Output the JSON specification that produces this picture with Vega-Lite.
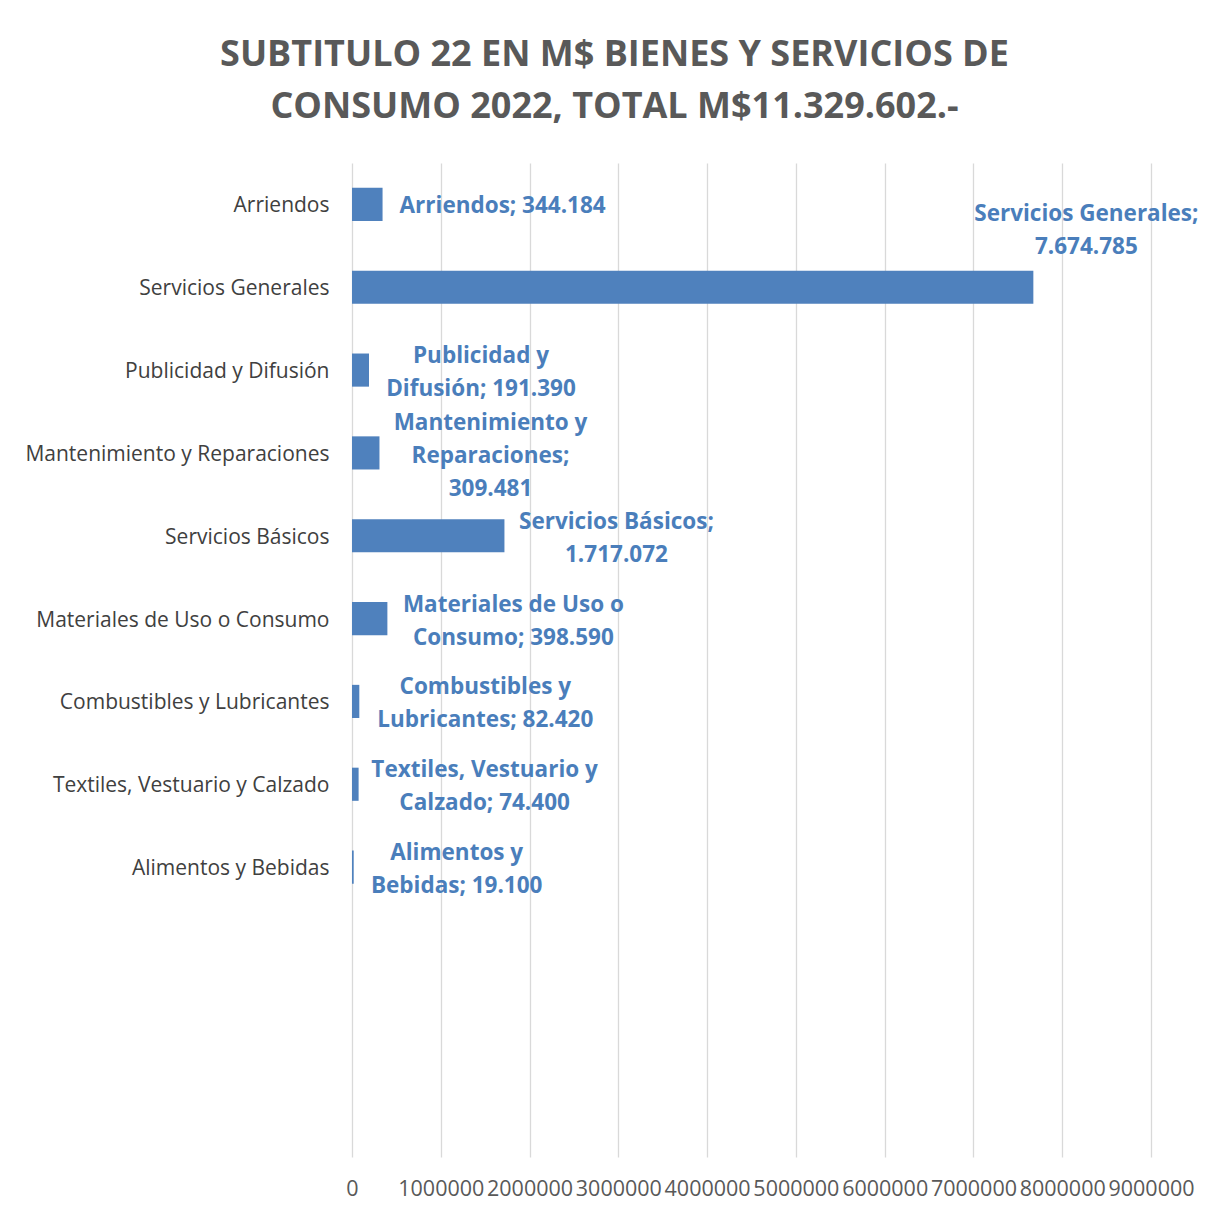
{
  "$schema": "https://vega.github.io/schema/vega-lite/v6.json",
  "width": 799,
  "height": 994,
  "autosize": {"type": "none"},
  "padding": {"left": 352, "top": 163, "right": 67, "bottom": 56},
  "background": "white",
  "title": {
    "text": ["SUBTITULO 22 EN M$ BIENES Y SERVICIOS DE", "CONSUMO 2022, TOTAL M$11.329.602.-"],
    "font": "Open Sans",
    "fontSize": 36,
    "fontWeight": "bold",
    "color": "#595959",
    "anchor": "middle",
    "frame": "group",
    "dx": -137,
    "baseline": "alphabetic",
    "lineHeight": 52,
    "offset": 9
  },
  "data": {
    "values": [
      {"categoria": "Arriendos", "valor": 344184, "etiqueta": "Arriendos; 344.184"},
      {"categoria": "Servicios Generales", "valor": 7674785, "etiqueta": "Servicios Generales;\n7.674.785"},
      {"categoria": "Publicidad y Difusión", "valor": 191390, "etiqueta": "Publicidad y\nDifusión; 191.390"},
      {"categoria": "Mantenimiento y Reparaciones", "valor": 309481, "etiqueta": "Mantenimiento y\nReparaciones;\n309.481"},
      {"categoria": "Servicios Básicos", "valor": 1717072, "etiqueta": "Servicios Básicos;\n1.717.072"},
      {"categoria": "Materiales de Uso o Consumo", "valor": 398590, "etiqueta": "Materiales de Uso o\nConsumo; 398.590"},
      {"categoria": "Combustibles y Lubricantes", "valor": 82420, "etiqueta": "Combustibles y\nLubricantes; 82.420"},
      {"categoria": "Textiles, Vestuario y Calzado", "valor": 74400, "etiqueta": "Textiles, Vestuario y\nCalzado; 74.400"},
      {"categoria": "Alimentos y Bebidas", "valor": 19100, "etiqueta": "Alimentos y\nBebidas; 19.100"}
    ]
  },
  "encoding": {
    "y": {
      "field": "categoria",
      "type": "nominal",
      "sort": null,
      "scale": {
        "domain": ["Arriendos", "Servicios Generales", "Publicidad y Difusión", "Mantenimiento y Reparaciones", "Servicios Básicos", "Materiales de Uso o Consumo", "Combustibles y Lubricantes", "Textiles, Vestuario y Calzado", "Alimentos y Bebidas", " ", "  ", "   "],
        "paddingInner": 0.6,
        "paddingOuter": 0.3
      },
      "axis": {
        "title": null,
        "domain": false,
        "ticks": false,
        "labelFont": "Open Sans",
        "labelFontSize": 21,
        "labelColor": "#404040",
        "labelPadding": 23,
        "labelOffset": 2,
        "labelLimit": 400
      }
    },
    "x": {
      "field": "valor",
      "type": "quantitative",
      "scale": {"domain": [0, 9000000], "nice": false},
      "axis": {
        "title": null,
        "domain": false,
        "ticks": false,
        "values": [0, 1000000, 2000000, 3000000, 4000000, 5000000, 6000000, 7000000, 8000000, 9000000],
        "format": "d",
        "labelFont": "Open Sans",
        "labelFontSize": 21.5,
        "labelColor": "#595959",
        "labelPadding": 21,
        "labelOverlap": false,
        "labelFlush": false,
        "grid": true,
        "gridColor": "#D9D9D9",
        "gridWidth": 1.3
      }
    }
  },
  "layer": [
    {"mark": {"type": "bar", "color": "#4F81BD"}},
    {
      "transform": [{"filter": "datum.categoria === 'Arriendos'"}],
      "mark": {"type": "text", "align": "left", "baseline": "middle", "dx": 17, "dy": 2, "font": "Open Sans", "fontSize": 22.5, "fontWeight": "bold", "color": "#4A7EBB"},
      "encoding": {"text": {"field": "etiqueta"}}
    },
    {
      "transform": [{"filter": "datum.categoria === 'Servicios Generales'"}],
      "mark": {"type": "text", "align": "center", "baseline": "middle", "dx": 53, "dy": -73, "lineBreak": "\n", "lineHeight": 33, "font": "Open Sans", "fontSize": 22.5, "fontWeight": "bold", "color": "#4A7EBB"},
      "encoding": {"text": {"field": "etiqueta"}}
    },
    {
      "transform": [{"filter": "datum.categoria === 'Mantenimiento y Reparaciones'"}],
      "mark": {"type": "text", "align": "center", "baseline": "middle", "dx": 111, "dy": -30, "lineBreak": "\n", "lineHeight": 33, "font": "Open Sans", "fontSize": 22.5, "fontWeight": "bold", "color": "#4A7EBB"},
      "encoding": {"text": {"field": "etiqueta"}}
    },
    {
      "transform": [{"filter": {"field": "categoria", "oneOf": ["Publicidad y Difusión", "Servicios Básicos"]}}],
      "mark": {"type": "text", "align": "center", "baseline": "middle", "dx": 112, "dy": -14, "lineBreak": "\n", "lineHeight": 33, "font": "Open Sans", "fontSize": 22.5, "fontWeight": "bold", "color": "#4A7EBB"},
      "encoding": {"text": {"field": "etiqueta"}}
    },
    {
      "transform": [{"filter": {"field": "categoria", "oneOf": ["Materiales de Uso o Consumo", "Combustibles y Lubricantes", "Textiles, Vestuario y Calzado"]}}],
      "mark": {"type": "text", "align": "center", "baseline": "middle", "dx": 126, "dy": -14, "lineBreak": "\n", "lineHeight": 33, "font": "Open Sans", "fontSize": 22.5, "fontWeight": "bold", "color": "#4A7EBB"},
      "encoding": {"text": {"field": "etiqueta"}}
    },
    {
      "transform": [{"filter": "datum.categoria === 'Alimentos y Bebidas'"}],
      "mark": {"type": "text", "align": "center", "baseline": "middle", "dx": 103, "dy": -14, "lineBreak": "\n", "lineHeight": 33, "font": "Open Sans", "fontSize": 22.5, "fontWeight": "bold", "color": "#4A7EBB"},
      "encoding": {"text": {"field": "etiqueta"}}
    }
  ],
  "config": {"view": {"stroke": null}}
}
